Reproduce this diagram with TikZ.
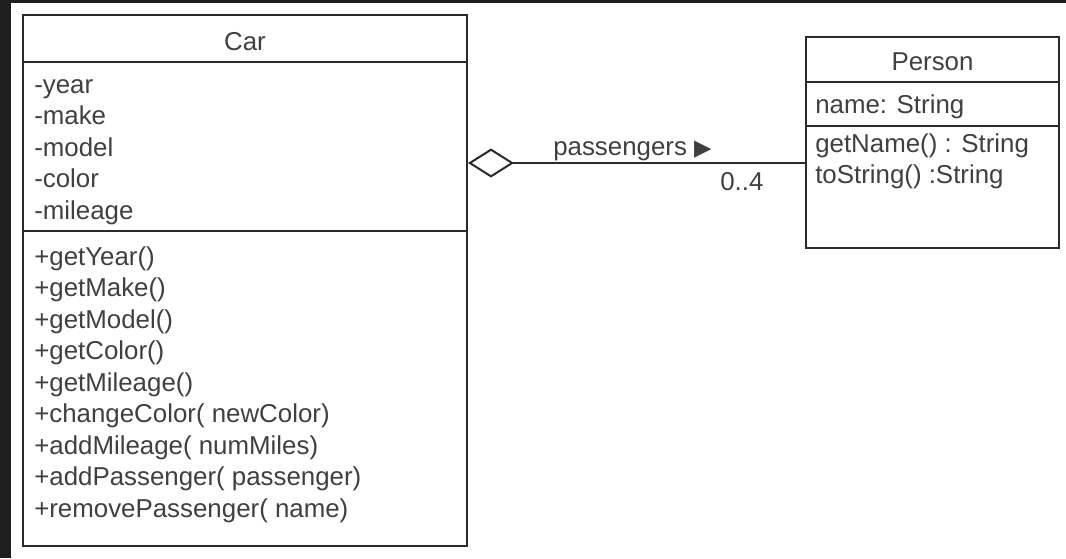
\documentclass[tikz,border=0pt]{standalone}
\usepackage{fontspec}
\setmainfont{Liberation Sans}
\newfontfamily\symfont{DejaVu Sans}
\usetikzlibrary{arrows.meta}
\definecolor{frame}{HTML}{1E1E1E}
\definecolor{linec}{HTML}{2A2A2A}
\definecolor{textc}{HTML}{404040}
\tikzset{
  umlbox/.style={draw=linec, line width=1.5pt, fill=white, inner sep=0pt},
  divider/.style={draw=linec, line width=1.5pt},
  member/.style={anchor=base west, inner sep=0pt, text=textc, font=\fontsize{19.4}{23}\selectfont},
  title/.style={anchor=base, inner sep=0pt, text=textc, font=\fontsize{19.4}{23}\selectfont},
  assoc/.style={draw=linec, line width=1.5pt, {Diamond[open, length=34.5pt, width=21.75pt, fill=white]}-}
}
\begin{document}
\begin{tikzpicture}[x=0.75pt, y=-0.75pt]
\useasboundingbox (0,0) rectangle (1066,558);
\fill[frame] (0,0) rectangle (1066,558);
\fill[white] (11,3) rectangle (1066,558);
% Car class
\node[umlbox, minimum width=333pt, minimum height=398.25pt] (car) at (245,280.5) {};
\draw[divider] (car.west |- 0,62) -- (car.east |- 0,62);
\draw[divider] (car.west |- 0,231) -- (car.east |- 0,231);
\node[title] (cartitle) at (245,50) {Car};
\node[member] (a1) at (34,93) {-year};
\node[member] (a2) at (34,124.5) {-make};
\node[member] (a3) at (34,156) {-model};
\node[member] (a4) at (34,187.5) {-color};
\node[member] (a5) at (34,219) {-mileage};
\node[member] (m1) at (34,265) {+getYear()};
\node[member] (m2) at (34,296.5) {+getMake()};
\node[member] (m3) at (34,328) {+getModel()};
\node[member] (m4) at (34,359.5) {+getColor()};
\node[member] (m5) at (34,391) {+getMileage()};
\node[member] (m6) at (34,422.5) {+changeColor( newColor)};
\node[member] (m7) at (34,454) {+addMileage( numMiles)};
\node[member] (m8) at (34,485.5) {+addPassenger( passenger)};
\node[member] (m9) at (34,517) {+removePassenger( name)};
% Person class
\node[umlbox, minimum width=189.75pt, minimum height=158.25pt] (person) at (932.5,142.5) {};
\draw[divider] (person.west |- 0,82) -- (person.east |- 0,82);
\draw[divider] (person.west |- 0,126) -- (person.east |- 0,126);
\node[title] (ptitle) at (932.5,70) {Person};
\node[member] (p1) at (815,113) {name: String};
\node[member] (p2) at (815,152) {getName() : String};
\node[member] (p3) at (815,183) {toString() :String};
% association
\coordinate (cend) at (car.east |- 0,163);
\coordinate (pend) at (person.west |- 0,163);
\draw[assoc] (cend) -- (pend);
\node[member] (role) at (553,155) {passengers {\symfont\fontsize{17}{19}\selectfont ▶}};
\node[member] (mult) at (720,190) {0..4};
\end{tikzpicture}
\end{document}
